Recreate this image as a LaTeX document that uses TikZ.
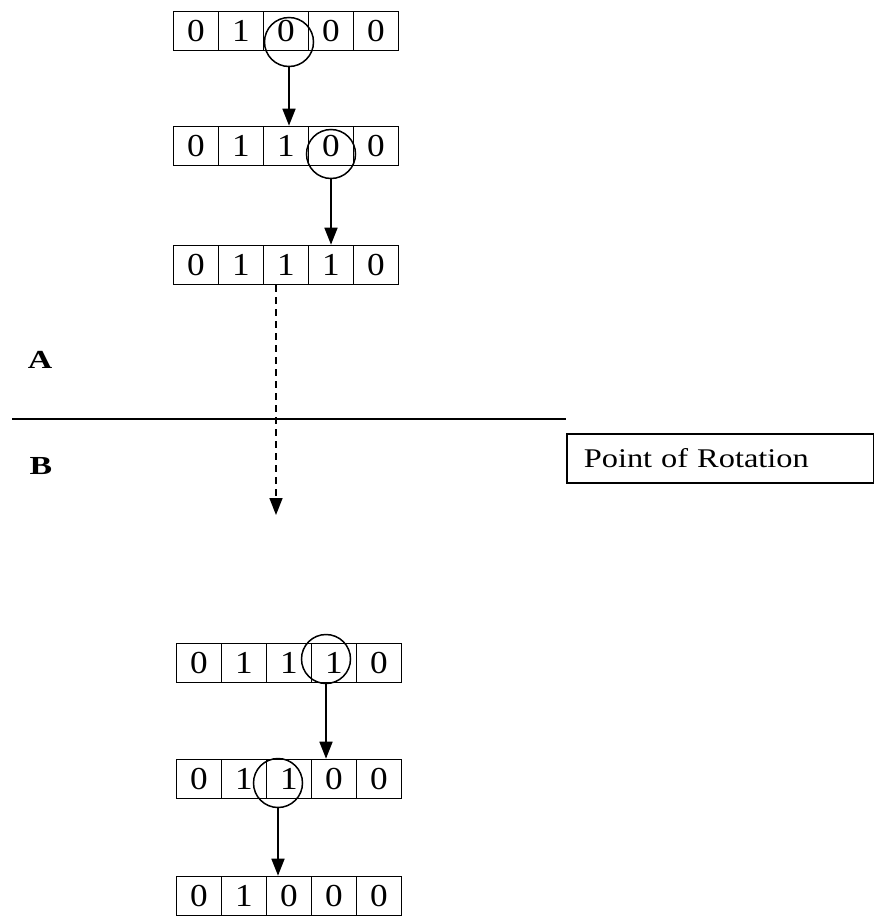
\documentclass[tikz,border=0pt]{standalone}
\usepackage{fontspec}
\setmainfont{Liberation Serif}
\newfontfamily\digitserif[FakeStretch=1.1]{Liberation Serif}
\newfontfamily\wideserif[FakeStretch=1.2]{Liberation Serif}
\newfontfamily\lblserif[FakeStretch=1.3]{Liberation Serif}
\usetikzlibrary{arrows.meta}
\begin{document}
\begin{tikzpicture}[x=1pt,y=-1pt,
 cell/.style={draw, line width=1.6pt, minimum width=45pt, minimum height=39pt, inner sep=0pt, font=\digitserif\fontsize{32}{32}\selectfont},
 ring/.style={draw, circle, line width=1.5pt, minimum size=49pt, inner sep=0pt},
 link/.style={line width=1.6pt, -{Triangle[width=13pt,length=17pt]}},
 dlink/.style={link, dash pattern=on 7pt off 5pt},
 lbl/.style={font=\lblserif\bfseries\fontsize{26}{26}\selectfont, inner sep=0pt},
 notebox/.style={draw, line width=1.6pt, anchor=north west, minimum height=49pt, text width=273pt, inner xsep=17pt, inner ysep=0pt, align=left, font=\wideserif\fontsize{27}{27}\selectfont}]
\useasboundingbox (0,0) rectangle (874,916);
\foreach \r/\y/\x/\vals in {1/31/173.5/{0,1,0,0,0},2/146/173.5/{0,1,1,0,0},3/265/173.5/{0,1,1,1,0},4/663/176.5/{0,1,1,1,0},5/779/176.5/{0,1,1,0,0},6/896/176.5/{0,1,0,0,0}}{
  \foreach \v [count=\i] in \vals {
    \node[cell] (r\r-\i) at ({\x+22.5+45*(\i-1)},\y) {\v};
  }
}
\node[ring] (k1) at (289,42) {};
\node[ring] (k2) at (331,154) {};
\node[ring] (k4) at (326,659) {};
\node[ring] (k5) at (278,783) {};
\draw[link] (k1.south) -- (k1.south |- r2-3.north);
\draw[link] (k2.south) -- (k2.south |- r3-4.north);
\draw[link] (k4.south) -- (k4.south |- r5-4.north);
\draw[link] (k5.south) -- (k5.south |- r6-3.north);
\coordinate (dend) at (276,515);
\draw[dlink] (dend |- r3-3.south) -- (dend);
\coordinate (hl) at (12,419);
\coordinate (hr) at (566,419);
\draw[line width=1.7pt] (hl) -- (hr);
\node[lbl] (A) at (40,360) {A};
\node[lbl] (B) at (41,466) {B};
\node[notebox] (box) at (566,433) {Point of Rotation};
\end{tikzpicture}
\end{document}
